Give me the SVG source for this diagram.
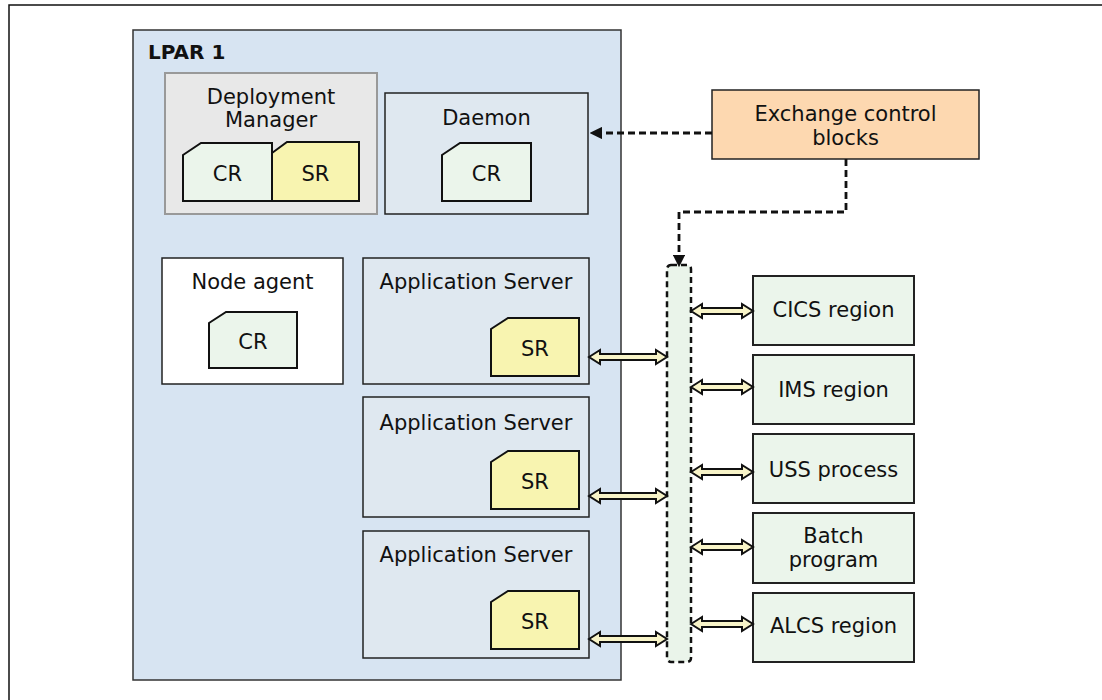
<svg xmlns="http://www.w3.org/2000/svg" width="1102" height="700" viewBox="0 0 1102 700">
<style>
text{font-family:"DejaVu Sans",Verdana,sans-serif;font-size:21px;fill:#111;text-anchor:middle}
.lpar{fill:#d7e4f2;stroke:#333;stroke-width:1.5}
.box{fill:#dfe8f0;stroke:#222;stroke-width:1.5}
.white{fill:#fff;stroke:#222;stroke-width:1.5}
.dm{fill:#e8e8e8;stroke:#999;stroke-width:2}
.cr{fill:#ebf5eb;stroke:#111;stroke-width:2}
.sr{fill:#f8f4b0;stroke:#111;stroke-width:2}
.ecb{fill:#fdd8b0;stroke:#222;stroke-width:1.5}
.reg{fill:#ebf5eb;stroke:#222;stroke-width:2}
.bus{fill:#eaf4ea;stroke:#111;stroke-width:2.5;stroke-dasharray:6 4}
.dash{fill:none;stroke:#111;stroke-width:2.8;stroke-dasharray:7 4}
.dbl{fill:#f8f4c8;stroke:#111;stroke-width:2;stroke-linejoin:miter}
</style>
<defs>
<marker id="ah" viewBox="0 0 10 10" refX="9" refY="5" markerWidth="4.5" markerHeight="4.5" orient="auto" markerUnits="strokeWidth">
<path d="M0,0 L10,5 L0,10 z" fill="#111"/>
</marker>
<path id="dblL" d="M0,0 L11,-7 L11,-3 L67,-3 L67,-7 L78,0 L67,7 L67,3 L11,3 L11,7 z"/>
<path id="dblR" d="M0,0 L11,-7 L11,-3 L51,-3 L51,-7 L62,0 L51,7 L51,3 L11,3 L11,7 z"/>
</defs>
<rect x="9" y="5" width="1110" height="710" fill="#fff" stroke="#111" stroke-width="1.5"/>
<g id="lpar1">
<rect class="lpar" x="133" y="30" width="488" height="650"/>
<text x="148" y="59" style="font-weight:bold;text-anchor:start;font-size:20px">LPAR 1</text>
</g>
<g id="deployment-manager">
<rect class="dm" x="165" y="73" width="212" height="141"/>
<text x="271" y="104">Deployment</text>
<text x="271" y="127">Manager</text>
<path class="cr" d="M183,155 L201,143 L272,143 L272,201 L183,201 z"/>
<text x="227.5" y="181">CR</text>
<path class="sr" d="M272,153 L287,142 L359,142 L359,201 L272,201 z"/>
<text x="315.5" y="181">SR</text>
</g>
<g id="daemon">
<rect class="box" x="385" y="93" width="203" height="121"/>
<text x="486.5" y="125">Daemon</text>
<path class="cr" d="M442,155 L460,143 L531,143 L531,201 L442,201 z"/>
<text x="486.5" y="181">CR</text>
</g>
<g id="node-agent">
<rect class="white" x="162" y="258" width="181" height="126"/>
<text x="252.5" y="289">Node agent</text>
<path class="cr" d="M209,323 L226,312 L297,312 L297,368 L209,368 z"/>
<text x="253" y="349">CR</text>
</g>
<g id="app-server-1">
<rect class="box" x="363" y="258" width="226" height="126"/>
<text x="476" y="289">Application Server</text>
<path class="sr" d="M491,329 L508,318 L579,318 L579,376 L491,376 z"/>
<text x="535" y="356">SR</text>
</g>
<g id="app-server-2">
<rect class="box" x="363" y="397" width="226" height="120"/>
<text x="476" y="430">Application Server</text>
<path class="sr" d="M491,462 L508,451 L579,451 L579,509 L491,509 z"/>
<text x="535" y="489">SR</text>
</g>
<g id="app-server-3">
<rect class="box" x="363" y="531" width="226" height="127"/>
<text x="476" y="562">Application Server</text>
<path class="sr" d="M491,602 L508,591 L579,591 L579,649 L491,649 z"/>
<text x="535" y="629">SR</text>
</g>
<g id="exchange-control-blocks">
<rect class="ecb" x="712" y="90" width="267" height="69"/>
<text x="845.5" y="121">Exchange control</text>
<text x="845.5" y="145">blocks</text>
</g>
<g id="bus">
<rect class="bus" x="667" y="265" width="24" height="397" rx="4"/>
</g>
<g id="cics-region">
<rect class="reg" x="753" y="276" width="161" height="69"/>
<text x="833.5" y="317">CICS region</text>
</g>
<g id="ims-region">
<rect class="reg" x="753" y="355" width="161" height="69"/>
<text x="833.5" y="397">IMS region</text>
</g>
<g id="uss-process">
<rect class="reg" x="753" y="434" width="161" height="69"/>
<text x="833.5" y="477">USS process</text>
</g>
<g id="batch-program">
<rect class="reg" x="753" y="513" width="161" height="70"/>
<text x="833.5" y="543">Batch</text>
<text x="833.5" y="567">program</text>
</g>
<g id="alcs-region">
<rect class="reg" x="753" y="593" width="161" height="69"/>
<text x="833.5" y="633">ALCS region</text>
</g>
<g id="connectors">
<path class="dash" d="M712,133 L591,133" marker-end="url(#ah)"/>
<path class="dash" d="M846,159 L846,212 L679,212 L679,266" marker-end="url(#ah)"/>
<use href="#dblL" class="dbl" x="589" y="357"/>
<use href="#dblL" class="dbl" x="589" y="496"/>
<use href="#dblL" class="dbl" x="589" y="639"/>
<use href="#dblR" class="dbl" x="691" y="311"/>
<use href="#dblR" class="dbl" x="691" y="387"/>
<use href="#dblR" class="dbl" x="691" y="472"/>
<use href="#dblR" class="dbl" x="691" y="547"/>
<use href="#dblR" class="dbl" x="691" y="624"/>
</g>
</svg>
